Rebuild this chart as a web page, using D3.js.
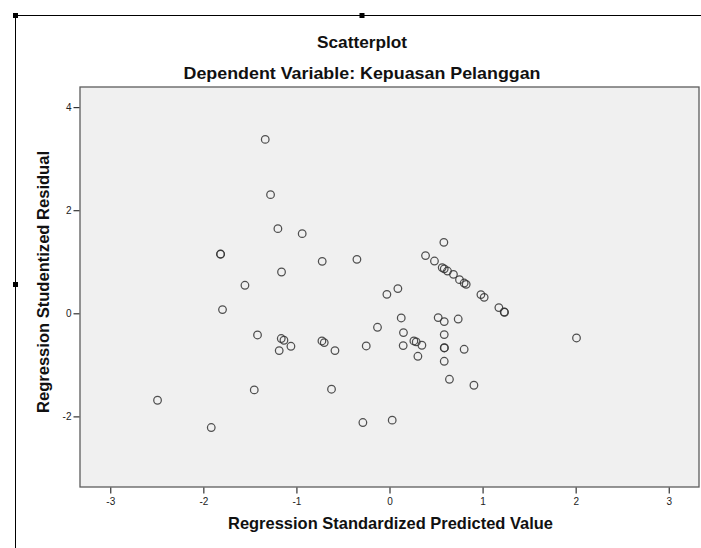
<!DOCTYPE html>
<html>
<head>
<meta charset="utf-8">
<script src="https://cdn.jsdelivr.net/npm/d3@7/dist/d3.min.js"></script>
<style>
  html, body { margin: 0; padding: 0; background: #fff; }
  svg { display: block; }
  text { font-family: "Liberation Sans", Arial, sans-serif; }
</style>
</head>
<body>
<svg id="chart" width="701" height="548"></svg>
<script>
// Regression Standardized Predicted Value
const predicted = [
  -1.335, -1.278, -1.199, -0.938, -1.815, -1.815, -0.723, -0.350, -1.160, -1.553,
  0.584, 0.387, 0.483, 0.566, 0.588, 0.623, 0.687, 0.752, 0.802, 0.824,
  0.982, 1.017, 1.175, 1.232, 1.236, -0.028, 0.090, 0.126, 0.523, 0.588,
  0.738, -0.129, 0.150, 0.588, -0.250, 0.147, 0.262, 0.287, 0.348, 0.588,
  0.590, 0.802, 0.305, 0.588, 2.009, 0.644, 0.907, -0.286, 0.029, -1.794,
  -1.418, -1.163, -1.134, -1.059, -1.185, -0.726, -0.701, -0.586, -1.453, -0.623,
  -2.492, -1.915
];
// Regression Studentized Residual
const residual = [
  3.373, 2.301, 1.642, 1.545, 1.150, 1.146, 1.008, 1.047, 0.801, 0.543,
  1.376, 1.119, 1.014, 0.886, 0.863, 0.820, 0.756, 0.653, 0.587, 0.562,
  0.363, 0.310, 0.111, 0.025, 0.020, 0.368, 0.479, -0.091, -0.083, -0.161,
  -0.111, -0.271, -0.374, -0.413, -0.634, -0.626, -0.537, -0.556, -0.620, -0.673,
  -0.668, -0.698, -0.834, -0.931, -0.479, -1.280, -1.396, -2.119, -2.074, 0.072,
  -0.421, -0.490, -0.523, -0.640, -0.723, -0.537, -0.568, -0.723, -1.487, -1.473,
  -1.687, -2.216
];
const xTicks = [-3, -2, -1, 0, 1, 2, 3];
const yTicks = [-2, 0, 2, 4];
const titleText = "Scatterplot";
const subtitleText = "Dependent Variable: Kepuasan Pelanggan";
const xLabel = "Regression Standardized Predicted Value";
const yLabel = "Regression Studentized Residual";

const svg = d3.select("#chart");
const plot = { left: 80, right: 699, top: 87, bottom: 487 };

const x = d3.scaleLinear().domain([-3.325, 3.325]).range([plot.left, plot.right]);
const y = d3.scaleLinear().domain([-3.37, 4.39]).range([plot.bottom, plot.top]);

// outer selection frame
svg.append("line").attr("x1", 15).attr("x2", 701).attr("y1", 15.5).attr("y2", 15.5)
  .attr("stroke", "#000").attr("stroke-width", 1);
svg.append("line").attr("x1", 15.5).attr("x2", 15.5).attr("y1", 15).attr("y2", 548)
  .attr("stroke", "#000").attr("stroke-width", 1);
[[15.5, 15.5], [362, 15.5], [15.5, 284.5]].forEach(([cx, cy]) => {
  svg.append("rect").attr("x", cx - 2.5).attr("y", cy - 2.5).attr("width", 5).attr("height", 5)
    .attr("fill", "#000");
});

// plot background
svg.append("rect")
  .attr("x", plot.left).attr("y", plot.top)
  .attr("width", plot.right - plot.left).attr("height", plot.bottom - plot.top)
  .attr("fill", "#f0f0f0").attr("stroke", "#5c5c5c").attr("stroke-width", 1.3);

const fmt = d => String(d);

// axes
const xAxis = d3.axisBottom(x).tickValues(xTicks).tickSize(6).tickSizeOuter(0).tickFormat(fmt);
const gx = svg.append("g").attr("transform", `translate(0,${plot.bottom + 0.5})`).call(xAxis);
gx.select(".domain").remove();
gx.selectAll(".tick line").attr("stroke", "#333").attr("stroke-width", 1.2);
gx.selectAll(".tick text").attr("font-size", 10).attr("fill", "#222").attr("dy", "0.8em");

const yAxis = d3.axisLeft(y).tickValues(yTicks).tickSize(6).tickSizeOuter(0).tickFormat(fmt);
const gy = svg.append("g").attr("transform", `translate(${plot.left - 0.5},0)`).call(yAxis);
gy.select(".domain").remove();
gy.selectAll(".tick line").attr("stroke", "#333").attr("stroke-width", 1.2);
gy.selectAll(".tick text").attr("font-size", 10).attr("fill", "#222").attr("x", -8);

// points
svg.append("g").selectAll("circle")
  .data(predicted.map((p, i) => [p, residual[i]]))
  .join("circle")
  .attr("cx", d => x(d[0]))
  .attr("cy", d => y(d[1]))
  .attr("r", 3.8)
  .attr("fill", "none")
  .attr("stroke", "#333")
  .attr("stroke-width", 1.25)
  .attr("stroke-opacity", 0.85);

// titles
function label(tx, ty, txt, size, len, rot) {
  const t = svg.append("text")
    .attr("text-anchor", "middle")
    .attr("font-size", size).attr("font-weight", "bold").attr("fill", "#111")
    .attr("textLength", len).attr("lengthAdjust", "spacingAndGlyphs")
    .text(txt);
  t.attr("transform", rot ? `translate(${tx},${ty}) rotate(-90)` : `translate(${tx},${ty})`);
  return t;
}
label(362, 48, titleText, 17, 90, false);
label(362, 79, subtitleText, 17, 357, false);
label(390.5, 529, xLabel, 16.5, 325, false);
label(49, 282, yLabel, 16.5, 262, true);
</script>
</body>
</html>
